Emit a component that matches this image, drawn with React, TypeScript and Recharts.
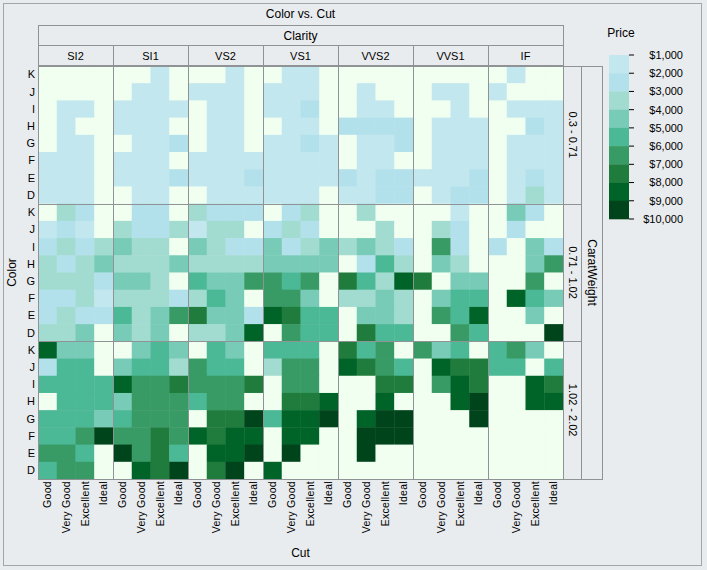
import React from 'react';
import { ScatterChart, Scatter, XAxis, YAxis } from 'recharts';

const CLARITIES = ['SI2', 'SI1', 'VS2', 'VS1', 'VVS2', 'VVS1', 'IF'];
const CUTS = ['Good', 'Very Good', 'Excellent', 'Ideal'];
const COLOR_GRADES = ['K', 'J', 'I', 'H', 'G', 'F', 'E', 'D'];
const CARAT_BANDS = ['0.3 - 0.71', '0.71 - 1.02', '1.02 - 2.02'];
const PRICE_TICKS = ['$1,000', '$2,000', '$3,000', '$4,000', '$5,000', '$6,000', '$7,000', '$8,000', '$9,000', '$10,000'];
// index = price bucket in thousands of dollars (0 = none)
const PRICE_COLORS = ['#f1fff0', '#c2e7ef', '#b2e1ec', '#a2dcd0', '#78cbb7', '#4bb896', '#389a64', '#1f7c3d', '#006428', '#00441b'];

// Rows: colour grade K..D. Columns: clarity SI2..IF, each with cut Good, Very Good, Excellent, Ideal.
const CARAT_SMALL = [
  [0,0,0,0, 0,0,1,0, 0,0,1,0, 0,1,1,0, 0,0,0,0, 0,0,0,0, 0,1,0,0],
  [0,0,0,0, 0,1,1,0, 1,1,1,0, 1,1,1,0, 0,1,0,0, 0,1,1,0, 1,0,0,0],
  [0,1,1,0, 1,1,1,1, 0,1,1,0, 1,1,2,0, 0,1,1,0, 0,0,1,0, 0,1,1,1],
  [0,1,0,0, 1,1,1,0, 0,1,1,0, 0,1,1,0, 2,2,2,2, 0,1,1,1, 0,0,2,1],
  [0,1,1,0, 0,1,1,2, 0,1,1,0, 1,1,2,1, 0,1,1,2, 0,1,1,1, 0,1,1,1],
  [1,1,1,0, 1,1,1,0, 1,1,1,1, 1,1,1,1, 0,1,1,0, 0,1,1,1, 0,1,1,1],
  [1,1,1,0, 1,1,1,2, 1,1,1,2, 1,1,1,1, 2,1,2,2, 1,1,1,2, 0,1,2,1],
  [1,1,1,0, 0,1,1,0, 0,1,1,1, 1,1,1,0, 1,1,2,2, 0,1,2,2, 0,1,3,1],
];

const CARAT_MEDIUM = [
  [0,3,2,0, 0,2,2,0, 3,2,2,2, 0,2,3,0, 0,3,0,0, 0,0,1,0, 0,4,2,0],
  [1,2,1,0, 3,2,2,3, 1,3,3,0, 2,3,2,0, 0,0,3,0, 0,3,2,0, 0,2,0,0],
  [2,3,2,3, 4,3,3,0, 4,3,2,2, 4,2,3,4, 3,4,3,2, 0,6,2,0, 2,0,4,2],
  [3,2,3,4, 3,3,3,4, 3,3,3,3, 4,4,4,4, 0,2,5,3, 0,4,3,0, 0,0,4,6],
  [3,3,3,2, 4,4,3,0, 5,4,4,6, 6,5,6,0, 7,5,3,8, 7,0,4,4, 0,0,6,0],
  [2,2,3,1, 3,3,3,2, 3,5,4,0, 6,6,4,0, 3,3,4,3, 0,4,5,5, 0,8,5,4],
  [2,3,2,2, 5,3,4,6, 7,4,4,2, 8,7,5,5, 0,4,4,3, 0,6,5,8, 0,0,4,0],
  [3,3,4,0, 4,3,4,0, 3,3,4,8, 0,6,5,5, 0,7,5,5, 0,0,6,5, 0,0,0,9],
];

const CARAT_LARGE = [
  [8,4,4,0, 0,4,5,4, 0,5,4,0, 5,5,5,0, 7,5,6,0, 6,4,5,0, 5,6,4,0],
  [2,5,5,0, 4,5,5,3, 6,5,5,0, 3,6,6,0, 8,7,6,5, 0,8,7,7, 5,5,0,5],
  [5,5,5,5, 8,6,6,7, 6,6,6,7, 0,6,6,0, 0,0,7,7, 0,6,8,7, 0,0,8,7],
  [0,5,5,5, 4,6,6,6, 5,6,6,0, 0,7,7,8, 0,0,8,0, 0,0,8,9, 0,0,8,8],
  [5,5,5,4, 5,6,6,6, 0,7,7,9, 5,8,8,9, 0,8,9,9, 0,0,0,9, 0,0,0,0],
  [5,5,6,9, 6,6,7,6, 8,7,8,8, 0,8,8,0, 0,9,9,9, 0,0,0,0, 0,0,0,0],
  [6,6,5,0, 9,6,7,5, 0,8,8,9, 0,9,0,0, 0,9,0,0, 0,0,0,0, 0,0,0,0],
  [5,6,6,0, 0,8,7,9, 0,7,9,0, 8,0,0,0, 0,0,0,0, 0,0,0,0, 0,0,0,0],
];

const BANDS = [CARAT_SMALL, CARAT_MEDIUM, CARAT_LARGE];

const cells: { x: number; y: number; level: number }[] = [];
BANDS.forEach((band, b) => {
  band.forEach((row, r) => {
    row.forEach((level, c) => {
      cells.push({ x: c + 0.5, y: b * 8 + r + 0.5, level });
    });
  });
});

const NCOL = CLARITIES.length * CUTS.length;
const NROW = BANDS.length * COLOR_GRADES.length;

const W = 707;
const H = 570;
const PL = 38;
const PR = 563;
const PT = 66;
const PB = 479;
const PW = PR - PL;
const PH = PB - PT;
const CW = PW / NCOL;
const CH = PH / NROW;
const PANEL_W = PW / CLARITIES.length;
const BAND_H = PH / BANDS.length;

const FONT = '"Liberation Sans", Arial, sans-serif';
const LINE = '#8f9395';
const BG = '#e9ecee';

const xTicks = Array.from({ length: NCOL }, (_, i) => i + 0.5);
const yTicks = Array.from({ length: NROW }, (_, i) => i + 0.5);

const CellShape = (props: any) => {
  const { cx, cy } = props;
  const level = props.payload ? props.payload.level : props.level;
  if (cx == null || cy == null) return null;
  return (
    <rect
      x={cx - CW / 2}
      y={cy - CH / 2}
      width={CW + 0.4}
      height={CH + 0.4}
      fill={PRICE_COLORS[level]}
      stroke="none"
    />
  );
};

const XTick = (props: any) => {
  const { x, y, payload } = props;
  const label = CUTS[Math.floor(payload.value) % CUTS.length];
  return (
    <g transform={`translate(${x},${y})`}>
      <text transform="rotate(-90)" x={0} y={0} dy="0.35em" textAnchor="end" fontSize={10.5} fontFamily={FONT} fill="#000" letterSpacing={0.3}>
        {label}
      </text>
    </g>
  );
};

const YTick = (props: any) => {
  const { x, y, payload } = props;
  const label = COLOR_GRADES[Math.floor(payload.value) % COLOR_GRADES.length];
  return (
    <text x={x} y={y} dy="0.35em" textAnchor="end" fontSize={11} fontFamily={FONT} fill="#000">
      {label}
    </text>
  );
};

const Overlay = () => {
  const legendTop = 55;
  const legendBottom = 219;
  const step = (legendBottom - legendTop) / (PRICE_TICKS.length - 1);
  return (
    <svg width={W} height={H} style={{ position: 'absolute', left: 0, top: 0, pointerEvents: 'none' }}>
      {/* panel frames */}
      <g stroke={LINE} strokeWidth={1} fill="none">
        <rect x={PL + 0.5} y={PT + 0.5} width={PW} height={PH} />
        {CLARITIES.slice(1).map((c, i) => (
          <line key={`v${c}`} x1={PL + (i + 1) * PANEL_W + 0.5} x2={PL + (i + 1) * PANEL_W + 0.5} y1={PT} y2={PB} />
        ))}
        {CARAT_BANDS.slice(1).map((b, i) => (
          <line key={`h${b}`} x1={PL} x2={PR} y1={Math.round(PT + (i + 1) * BAND_H) + 0.5} y2={Math.round(PT + (i + 1) * BAND_H) + 0.5} />
        ))}
      </g>
      <g fontFamily={FONT} fill="#000">
        <text x={(PL + PR) / 2} y={18} fontSize={12} textAnchor="middle">Color vs. Cut</text>
        {/* Clarity header */}
        <rect x={PL + 0.5} y={25.5} width={PW} height={40} fill="none" stroke={LINE} />
        <line x1={PL} x2={PR} y1={45.5} y2={45.5} stroke={LINE} />
        <text x={(PL + PR) / 2} y={40} fontSize={12} textAnchor="middle">Clarity</text>
        {CLARITIES.map((c, i) => (
          <g key={c}>
            {i > 0 && <line x1={PL + i * PANEL_W + 0.5} x2={PL + i * PANEL_W + 0.5} y1={45.5} y2={PT} stroke={LINE} />}
            <text x={PL + (i + 0.5) * PANEL_W} y={60} fontSize={11} textAnchor="middle">{c}</text>
          </g>
        ))}
        {/* Carat strip */}
        <rect x={PR + 0.5} y={PT + 0.5} width={18} height={PH} fill="none" stroke={LINE} />
        <rect x={PR + 18.5} y={PT + 0.5} width={21} height={PH} fill="none" stroke={LINE} />
        {CARAT_BANDS.map((b, i) => (
          <g key={b}>
            {i > 0 && <line x1={PR} x2={PR + 18.5} y1={Math.round(PT + i * BAND_H) + 0.5} y2={Math.round(PT + i * BAND_H) + 0.5} stroke={LINE} />}
            <text
              transform={`translate(${PR + 9.5},${PT + (i + 0.5) * BAND_H}) rotate(90)`}
              x={0}
              y={0}
              dy="0.35em"
              fontSize={11}
              textAnchor="middle"
            >
              {b}
            </text>
          </g>
        ))}
        <text transform={`translate(${PR + 29},${(PT + PB) / 2}) rotate(90)`} x={0} y={0} dy="0.35em" fontSize={12} textAnchor="middle">
          CaratWeight
        </text>
        {/* Axis titles */}
        <text transform={`translate(12,${(PT + PB) / 2}) rotate(-90)`} x={0} y={0} dy="0.35em" fontSize={12} textAnchor="middle">
          Color
        </text>
        <text x={(PL + PR) / 2} y={557} fontSize={12} textAnchor="middle">Cut</text>
        {/* Legend */}
        <text x={621} y={37} fontSize={12} textAnchor="middle">Price</text>
        {PRICE_COLORS.slice(1).map((col, i) => (
          <rect key={col} x={609} y={legendTop + i * step} width={20} height={step + 0.3} fill={col} />
        ))}
        {PRICE_TICKS.map((t, i) => (
          <g key={t}>
            <line x1={629} x2={634} y1={legendTop + i * step} y2={legendTop + i * step} stroke="#000" />
            <text x={683} y={legendTop + i * step} dy="0.35em" fontSize={11} textAnchor="end">{t}</text>
          </g>
        ))}
      </g>
    </svg>
  );
};

export default function App() {
  return (
    <div style={{ position: 'absolute', left: 0, top: 0, width: W, height: H, background: BG }}>
      <div style={{ position: 'absolute', left: 3, top: 3, width: W - 8, height: H - 7, border: '1px solid #a2a6a8', boxSizing: 'border-box' }} />
      <div style={{ position: 'absolute', left: 0, top: 0 }}>
        <ScatterChart width={W} height={H} margin={{ top: PT, right: W - PR, bottom: H - PB - 60, left: PL - 30 }}>
          <XAxis
            type="number"
            dataKey="x"
            domain={[0, NCOL]}
            ticks={xTicks}
            interval={0}
            height={60}
            tick={<XTick />}
            tickLine={false}
            axisLine={false}
            tickSize={0}
            tickMargin={2}
            allowDataOverflow
          />
          <YAxis
            type="number"
            dataKey="y"
            domain={[0, NROW]}
            ticks={yTicks}
            interval={0}
            reversed
            width={30}
            tick={<YTick />}
            tickLine={false}
            axisLine={false}
            tickSize={0}
            tickMargin={3}
            allowDataOverflow
          />
          <Scatter data={cells} shape={<CellShape />} isAnimationActive={false} />
        </ScatterChart>
      </div>
      <Overlay />
    </div>
  );
}
